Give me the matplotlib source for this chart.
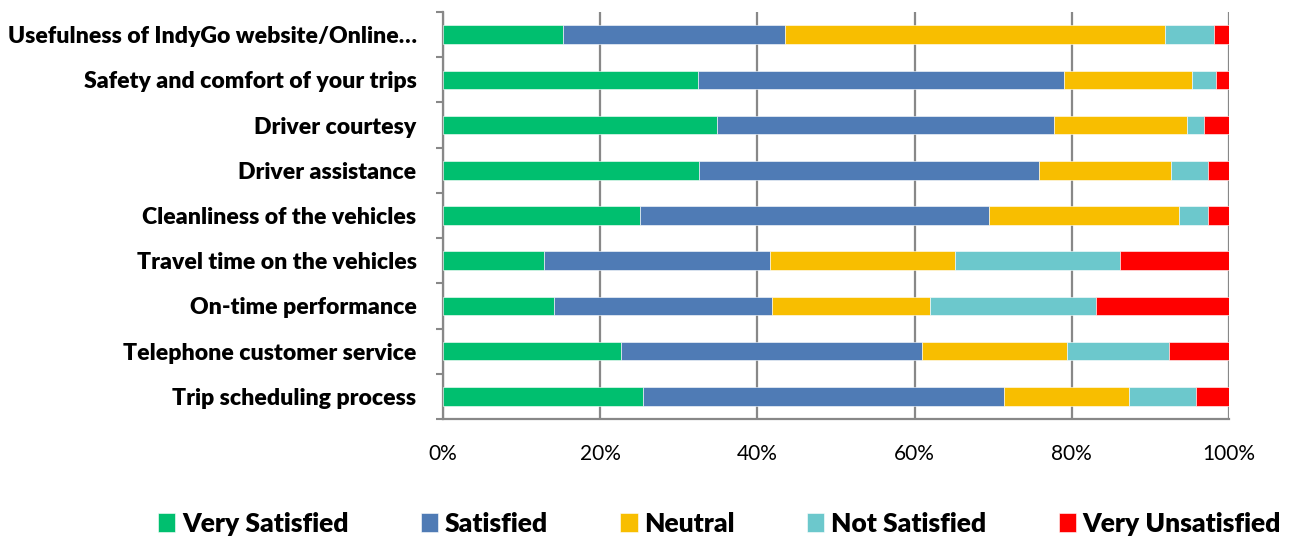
import matplotlib
matplotlib.use("Agg")
import matplotlib.pyplot as plt
import numpy as np
from matplotlib.ticker import FixedLocator, PercentFormatter

categories = [
    "Usefulness of IndyGo website/Online\u2026",
    "Safety and comfort of your trips",
    "Driver courtesy",
    "Driver assistance",
    "Cleanliness of the vehicles",
    "Travel time on the vehicles",
    "On-time performance",
    "Telephone customer service",
    "Trip scheduling process",
]
series_names = ["Very Satisfied", "Satisfied", "Neutral", "Not Satisfied", "Very Unsatisfied"]
very_satisfied = [15.3, 32.4, 34.9, 32.6, 25.1, 12.8, 14.1, 22.7, 25.4]
satisfied = [28.2, 46.6, 42.8, 43.2, 44.4, 28.8, 27.7, 38.3, 46.0]
neutral = [48.4, 16.3, 17.0, 16.8, 24.1, 23.6, 20.1, 18.4, 15.9]
not_satisfied = [6.2, 3.1, 2.1, 4.7, 3.7, 20.9, 21.2, 13.0, 8.5]
very_unsatisfied = [1.9, 1.6, 3.2, 2.7, 2.7, 13.9, 16.9, 7.6, 4.2]
colors = ["#00BF6F", "#4F7BB5", "#F8BE00", "#6CC8CC", "#FF0000"]
xticks = [0, 20, 40, 60, 80, 100]

data = [very_satisfied, satisfied, neutral, not_satisfied, very_unsatisfied]

fig = plt.figure(figsize=(12.91, 5.37), dpi=100)
ax = fig.add_axes([443/1291, 1 - 419/537, 786/1291, (419 - 12)/537])

n = len(categories)
y = np.arange(n)[::-1]
left = np.zeros(n)
handles = []
for name, vals, c in zip(series_names, data, colors):
    vals = np.array(vals)
    b = ax.barh(y, vals, left=left, height=0.41, color=c, label=name,
                edgecolor="white", linewidth=0.4, zorder=3)
    handles.append(b)
    left += vals

ax.set_xlim(0, 100)
ax.set_ylim(-0.5, n - 0.5)
ax.set_xticks(xticks)
ax.xaxis.set_major_formatter(PercentFormatter(decimals=0))
ax.set_yticks(y)
ax.set_yticklabels(categories, fontsize=16.6, fontweight="heavy", family=["Lato", "DejaVu Sans"])
ax.yaxis.set_minor_locator(FixedLocator(np.arange(-0.5, n, 1.0)))
ax.tick_params(axis="y", which="major", length=0, pad=19)
ax.tick_params(axis="y", which="minor", length=5, width=1.5, color="#888888", direction="out")
ax.tick_params(axis="x", length=0, pad=18, labelsize=15)
for lab in ax.get_xticklabels():
    lab.set_family(["Lato", "DejaVu Sans"])

ax.grid(axis="x", color="#888888", linewidth=1.6, zorder=0)
for s in ["top", "right"]:
    ax.spines[s].set_visible(False)
for s in ["left", "bottom"]:
    ax.spines[s].set_color("#888888")
    ax.spines[s].set_linewidth(1.6)

leg = fig.legend(handles=handles, labels=series_names, loc="center",
                 bbox_to_anchor=(719.5/1291, 1 - 524/537), ncol=5, frameon=False,
                 prop={"family": ["Lato", "DejaVu Sans"], "weight": "heavy", "size": 19},
                 handlelength=0.65, handleheight=0.75, handletextpad=0.25, columnspacing=2.75,
                 borderpad=0, borderaxespad=0)

fig.savefig("out.png", dpi=100)
